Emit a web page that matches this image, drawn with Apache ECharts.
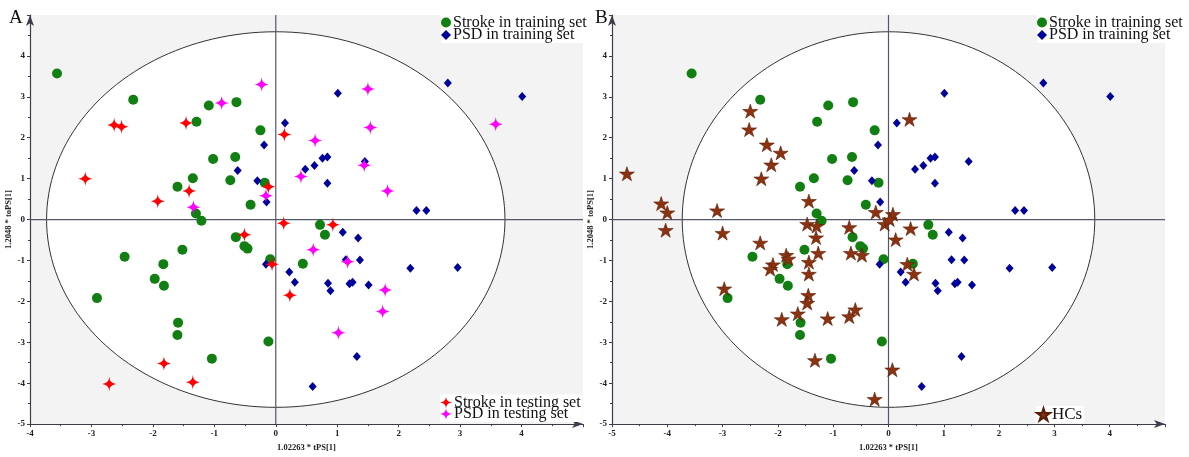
<!DOCTYPE html>
<html>
<head>
<meta charset="utf-8">
<script src="https://cdn.jsdelivr.net/npm/echarts@6/dist/echarts.min.js"></script>
<style>html,body{margin:0;padding:0;background:#fff;}#main{width:1189px;height:457px;}</style>
</head>
<body>
<div id="main"></div>
<script>
// ---------- DATA ----------
const strokeTrain = [[-3.56,3.57],[-2.32,2.93],[-1.29,2.39],[-1.09,2.79],[-0.64,2.87],[-0.25,2.18],[-1.02,1.48],[-0.66,1.53],[-1.35,1.01],[-0.74,0.96],[-1.60,0.80],[-0.18,0.90],[-0.41,0.36],[-1.30,0.15],[-1.21,-0.03],[-0.65,-0.43],[-1.52,-0.74],[-0.51,-0.65],[-0.46,-0.71],[-2.46,-0.91],[-1.83,-1.09],[-1.97,-1.45],[-1.82,-1.62],[-2.91,-1.92],[-1.59,-2.52],[-1.60,-2.82],[-1.04,-3.40],[-0.12,-2.98],[-0.09,-0.97],[0.72,-0.13],[0.80,-0.37],[0.44,-1.08]];
const psdTrain = [[0.15,2.36],[-0.19,1.82],[-0.62,1.20],[-0.30,0.95],[-0.15,0.43],[2.80,3.34],[4.01,3.01],[1.01,3.09],[0.76,1.50],[0.84,1.53],[0.63,1.32],[0.48,1.23],[1.45,1.42],[0.84,0.89],[2.29,0.22],[2.45,0.22],[1.09,-0.31],[1.34,-0.45],[1.14,-0.98],[1.37,-0.99],[2.19,-1.19],[2.96,-1.17],[0.22,-1.28],[0.31,-1.53],[0.85,-1.56],[0.89,-1.74],[1.20,-1.57],[1.25,-1.53],[1.51,-1.60],[1.32,-3.35],[0.60,-4.08],[-0.16,-1.09]];
const strokeTest = [[-2.63,2.31],[-2.51,2.27],[-1.46,2.36],[-3.10,1.00],[-1.92,0.45],[-1.41,0.70],[-0.12,0.80],[0.14,2.08],[0.13,-0.09],[-0.51,-0.37],[-0.06,-1.09],[0.23,-1.85],[-1.82,-3.52],[-1.35,-3.98],[-2.71,-4.02],[0.93,-0.13]];
const psdTest = [[-0.23,3.30],[-0.88,2.85],[-0.16,0.58],[-1.34,0.30],[0.41,1.05],[1.50,3.19],[1.54,2.25],[0.64,1.93],[1.44,1.33],[1.82,0.70],[3.58,2.33],[0.61,-0.74],[1.17,-1.03],[1.78,-1.72],[1.74,-2.25],[1.02,-2.77]];
const hcs = [[-4.73,1.12],[-4.11,0.39],[-4.00,0.17],[-3.10,0.22],[-2.50,2.65],[-2.52,2.20],[-2.20,1.83],[-1.95,1.63],[-2.12,1.34],[-2.30,1.00],[-1.44,0.45],[-0.23,0.18],[0.38,2.45],[0.08,0.13],[-0.07,-0.11],[0.02,0.00],[-4.03,-0.26],[-3.00,-0.33],[-2.32,-0.57],[-1.47,-0.11],[-1.30,-0.16],[-1.31,-0.44],[-1.27,-0.82],[-0.71,-0.19],[-0.68,-0.82],[-0.48,-0.87],[-1.85,-0.87],[-1.81,-0.96],[-2.09,-1.10],[-2.14,-1.21],[-1.44,-1.04],[-1.44,-1.33],[-2.97,-1.69],[-1.45,-1.85],[-1.47,-2.04],[-1.64,-2.30],[-1.93,-2.44],[-1.10,-2.42],[-0.60,-2.20],[-0.71,-2.37],[-1.33,-3.44],[-0.25,-4.39],[0.07,-3.67],[0.40,-0.22],[0.13,-0.49],[0.34,-1.09],[0.46,-1.33]];
const ellipseAxes = [3.73, 4.59];          // Hotelling T2 ellipse semi-axes
const xRangeA = [-4, 5];
const xRangeB = [-5, 5];
const yRange = [-5, 5];
const xAxisTitle = '1.02263 * tPS[1]';
const yAxisTitle = '1.2048 * toPS[1]';
const names = ['Stroke in training set','PSD in training set','Stroke in testing set','PSD in testing set','HCs'];

// ---------- STYLE ----------
const FONT = 'Liberation Serif';
const STAR4 = 'path://M50,0 C54,32 62,42 100,50 C62,58 54,68 50,100 C46,68 38,58 0,50 C38,42 46,32 50,0 Z';
const STAR5 = 'path://M50,0 L61.17,34.63 L97.55,34.55 L68.07,55.87 L79.39,90.45 L50,69 L20.61,90.45 L31.93,55.87 L2.45,34.55 L38.83,34.63 Z';

function xAxis(gi, r){
  return {type:'value', gridIndex:gi, min:r[0], max:r[1], interval:1,
    axisLine:{show:true,onZero:false,symbol:['none','arrow'],symbolSize:[6,11],lineStyle:{color:'#3c3c4c',width:1.2}},
    axisTick:{show:true,length:3,lineStyle:{color:'#3c3c4c'}},
    minorTick:{show:true,splitNumber:2,length:2,lineStyle:{color:'#3c3c4c'}},
    splitLine:{show:false},
    axisLabel:{showMaxLabel:false,margin:5,fontFamily:FONT,fontWeight:'bold',fontSize:9,color:'#222'},
    name:xAxisTitle,nameLocation:'middle',nameGap:17,
    nameTextStyle:{fontFamily:FONT,fontWeight:'bold',fontSize:8.5,color:'#222'}};
}
function yAxis(gi){
  return {type:'value', gridIndex:gi, min:yRange[0], max:yRange[1], interval:1,
    axisLine:{show:true,onZero:false,symbol:['none','arrow'],symbolSize:[6,11],lineStyle:{color:'#3c3c4c',width:1.2}},
    axisTick:{show:true,length:3,lineStyle:{color:'#3c3c4c'}},
    minorTick:{show:true,splitNumber:2,length:2,lineStyle:{color:'#3c3c4c'}},
    splitLine:{show:false},
    axisLabel:{showMaxLabel:false,margin:5,fontFamily:FONT,fontWeight:'bold',fontSize:9,color:'#222'},
    name:yAxisTitle,nameLocation:'middle',nameGap:14,
    nameTextStyle:{fontFamily:FONT,fontWeight:'bold',fontSize:8.5,color:'#222'}};
}
function ellipseSeries(gi, xr){
  return {type:'custom', xAxisIndex:gi, yAxisIndex:gi, silent:true, z:1, data:[[0,0]],
    renderItem:function(params, api){
      const c = api.coord([0,0]);
      const s = api.size([ellipseAxes[0], ellipseAxes[1]]);
      const pts = [];
      for(let i=0;i<=180;i++){const t=i/180*2*Math.PI; pts.push([c[0]+s[0]*Math.cos(t), c[1]+s[1]*Math.sin(t)]);}
      const l = api.coord([xr[0],0]), r = api.coord([xr[1],0]);
      const tp = api.coord([0,yRange[1]]), bt = api.coord([0,yRange[0]]);
      return {type:'group', children:[
        {type:'polygon', shape:{points:pts}, style:{fill:'#fff', stroke:'#333', lineWidth:1}},
        {type:'line', shape:{x1:l[0],y1:l[1],x2:r[0],y2:r[1]}, style:{stroke:'#55556a', lineWidth:1.2}},
        {type:'line', shape:{x1:tp[0],y1:tp[1],x2:bt[0],y2:bt[1]}, style:{stroke:'#55556a', lineWidth:1.2}}
      ]};
    }};
}
function sc(gi, name, data, symbol, size, color, extra){
  return Object.assign({type:'scatter', name:name, xAxisIndex:gi, yAxisIndex:gi, data:data, symbol:symbol, symbolSize:size,
    itemStyle:{color:color, opacity:1}, z:3, emphasis:{disabled:true}}, extra||{});
}
function legend(dataNames, left, top, fs, gap, icon){
  return {data:dataNames, orient:'vertical', left:left, top:top, itemGap:gap, itemWidth:icon, itemHeight:icon,
    selectedMode:false, backgroundColor:'#fff', padding:[0,2,0,0],
    textStyle:{fontFamily:FONT, fontSize:fs, color:'#111', padding:[0,0,0,-3]}};
}

const chart = echarts.init(document.getElementById('main'), null, {renderer:'canvas'});
chart.setOption({
  animation:false,
  backgroundColor:'#fff',
  grid:[
    {left:30, right:606, top:15, bottom:25, show:true, backgroundColor:'#f3f3f3', borderWidth:0},
    {left:612, right:24, top:15, bottom:25, show:true, backgroundColor:'#f3f3f3', borderWidth:0}
  ],
  xAxis:[xAxis(0, xRangeA), xAxis(1, xRangeB)],
  yAxis:[yAxis(0), yAxis(1)],
  legend:[
    legend([names[0], names[1]], 441, 14.5, 16, -3.5, 10),
    legend([names[2], names[3]], 440, 394.5, 16, -4.5, 12),
    legend([names[0], names[1]], 1037, 14.5, 16, -3.5, 10),
    legend([names[4]], 1036, 406, 17, 0, 13)
  ],
  graphic:[
    {type:'text', left:9, top:9, style:{text:'A', font:'19px "Liberation Serif"', fill:'#111'}},
    {type:'text', left:595, top:9, style:{text:'B', font:'19px "Liberation Serif"', fill:'#111'}}
  ],
  series:[
    ellipseSeries(0, xRangeA),
    sc(0, names[0], strokeTrain, 'circle', 10, '#117f11'),
    sc(0, names[1], psdTrain, 'diamond', [8,9], '#00009a'),
    sc(0, names[2], strokeTest, STAR4, [14,15], '#ff0000'),
    sc(0, names[3], psdTest, STAR4, [14,15], '#ff00ff'),
    ellipseSeries(1, xRangeB),
    sc(1, names[0], strokeTrain, 'circle', 10, '#117f11'),
    sc(1, names[1], psdTrain, 'diamond', [8,9], '#00009a'),
    sc(1, names[4], hcs, STAR5, [15,14], '#8b3210', {itemStyle:{color:'#8b3210', borderColor:'#5a1e06', borderWidth:0.6, opacity:1}})
  ]
});
</script>
</body>
</html>
